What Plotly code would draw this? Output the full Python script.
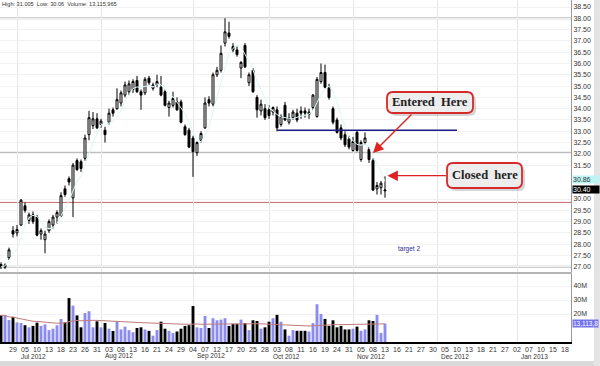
import pandas as pd
import plotly.graph_objects as go

# ---------------- data ----------------
start_day = "2012-06-26"
end_day = "2013-01-18"
holidays = ["2012-07-04", "2012-09-03", "2012-10-29", "2012-10-30",
            "2012-11-22", "2012-12-25", "2013-01-01"]

opens = [27.10, 26.98, 27.40, 28.60, 28.50, 28.85, 29.70, 29.05, 29.30, 29.20,
         28.45, 28.20, 28.60, 28.85, 29.20, 29.25, 30.45, 30.90, 30.05, 31.70,
         31.65, 31.80, 32.85, 33.25, 33.55, 33.30, 33.05, 33.40, 33.95, 34.00,
         34.25, 34.60, 34.75, 34.85, 35.25, 34.75, 34.70, 35.35, 34.90, 35.05,
         34.95, 34.75, 34.05, 34.15, 34.30, 34.30, 33.20, 33.05, 32.70, 32.05,
         32.60, 33.15, 34.40, 34.20, 35.50, 35.70, 36.90, 37.35, 36.75, 36.60,
         35.80, 36.80, 35.15, 35.70, 34.50, 33.90, 34.00, 33.95, 33.85, 33.95,
         33.30, 34.15, 33.40, 33.60, 33.80, 33.90, 33.90, 33.75, 34.05, 33.65,
         35.20, 35.60, 34.95, 34.00, 33.50, 33.15, 32.85, 32.65, 32.15, 32.95,
         31.75, 32.50, 32.20, 31.70, 30.45, 30.50, 30.36]
highs = [27.20, 27.15, 27.85, 28.80, 28.85, 30.00, 29.85, 29.40, 29.45, 29.30,
         28.70, 28.60, 29.10, 29.30, 29.50, 30.30, 30.60, 31.00, 31.60, 31.80,
         31.75, 32.85, 33.90, 33.85, 33.80, 33.55, 33.20, 34.00, 34.05, 34.90,
         34.80, 35.20, 35.25, 35.30, 35.45, 34.85, 35.40, 35.45, 35.15, 35.50,
         35.45, 34.85, 34.35, 34.75, 34.50, 34.40, 33.30, 33.15, 32.80, 32.55,
         33.00, 34.50, 34.55, 35.60, 35.85, 36.80, 38.00, 37.85, 36.90, 36.75,
         36.10, 36.90, 35.60, 35.80, 34.60, 34.40, 34.20, 34.15, 34.10, 34.10,
         33.75, 34.30, 33.80, 33.95, 34.00, 34.10, 34.05, 34.00, 34.65, 35.40,
         36.00, 35.95, 35.10, 34.10, 33.60, 33.30, 33.00, 32.80, 32.75, 33.05,
         32.60, 32.95, 32.30, 31.80, 30.75, 30.80, 31.005]
lows = [26.90, 26.90, 27.30, 28.30, 28.35, 28.80, 29.40, 28.90, 28.90, 28.35,
        28.20, 27.60, 28.50, 28.70, 28.90, 29.20, 30.10, 30.60, 29.20, 31.25,
        31.20, 31.70, 32.60, 33.10, 33.10, 33.15, 32.50, 33.30, 33.65, 33.95,
        34.10, 34.50, 34.60, 34.70, 34.70, 33.95, 34.60, 35.05, 34.80, 34.95,
        34.55, 34.10, 33.65, 34.05, 33.90, 33.35, 32.80, 32.25, 30.98, 31.90,
        32.50, 33.10, 34.10, 34.10, 35.40, 35.60, 36.75, 37.10, 36.50, 36.30,
        35.35, 35.80, 35.00, 34.70, 33.60, 33.70, 33.50, 33.55, 33.70, 33.00,
        33.20, 33.45, 33.30, 33.50, 33.40, 33.55, 33.60, 33.55, 33.95, 33.60,
        35.10, 34.90, 34.40, 33.30, 32.90, 32.60, 32.30, 32.20, 32.10, 32.10,
        31.65, 32.40, 31.60, 30.35, 30.20, 30.20, 30.06]
closes = [27.00, 27.08, 27.75, 28.45, 28.65, 29.95, 29.50, 29.30, 29.00, 28.40,
          28.60, 28.45, 29.00, 29.20, 29.40, 30.15, 30.20, 30.75, 31.50, 31.30,
          31.35, 32.70, 33.60, 33.55, 33.15, 33.45, 32.85, 33.80, 33.80, 34.40,
          34.70, 35.05, 35.10, 35.20, 34.75, 34.60, 35.30, 35.15, 35.05, 35.20,
          34.60, 34.15, 34.25, 34.45, 33.95, 33.40, 32.85, 32.30, 32.10, 32.50,
          32.90, 34.25, 34.25, 35.50, 35.70, 36.45, 37.40, 37.20, 36.60, 36.40,
          36.05, 35.85, 35.50, 34.75, 33.95, 34.20, 33.60, 33.70, 34.05, 33.15,
          33.65, 33.50, 33.60, 33.85, 33.50, 33.80, 33.80, 33.85, 34.60, 35.30,
          35.60, 34.95, 34.50, 33.40, 32.95, 32.70, 32.40, 32.30, 32.55, 32.15,
          32.50, 32.70, 31.75, 30.40, 30.60, 30.70, 30.40]
volumes_m = [19.0, 19.0, 15.7, 17.8, 14.0, 13.6, 12.0, 10.5, 11.5, 13.8,
             11.5, 12.6, 8.5, 9.5, 12.0, 16.4, 14.0, 31.4, 26.0, 19.0,
             10.5, 20.7, 22.0, 10.5, 14.8, 10.5, 13.6, 9.5, 7.9, 15.0,
             9.0, 11.0, 8.5, 7.0, 10.0, 10.5, 9.0, 8.0, 4.5, 8.5,
             14.5, 9.5, 8.0, 6.4, 7.5, 9.5, 11.5, 12.0, 25.7, 10.5,
             10.0, 18.6, 10.0, 17.0, 15.5, 16.0, 17.0, 11.5, 13.0, 13.0,
             16.0, 13.5, 8.5, 15.5, 15.0, 9.5, 10.5, 14.5, 17.0, 19.4,
             14.5, 9.0, 4.5, 8.5, 8.0, 8.0, 8.0, 7.5, 13.5, 27.0,
             20.0, 16.5, 11.5, 15.5, 10.5, 11.5, 9.0, 9.0, 9.5, 11.0,
             8.0, 9.0, 15.5, 15.0, 19.4, 6.5, 13.116]

tick_dates = ["2012-06-26", "2012-06-29", "2012-07-05", "2012-07-10", "2012-07-13",
              "2012-07-18", "2012-07-23", "2012-07-26", "2012-07-31", "2012-08-03",
              "2012-08-08", "2012-08-13", "2012-08-16", "2012-08-21", "2012-08-24",
              "2012-08-29", "2012-09-04", "2012-09-07", "2012-09-12", "2012-09-17",
              "2012-09-20", "2012-09-25", "2012-09-28", "2012-10-03", "2012-10-08",
              "2012-10-11", "2012-10-16", "2012-10-19", "2012-10-24", "2012-10-31",
              "2012-11-05", "2012-11-08", "2012-11-13", "2012-11-16", "2012-11-21",
              "2012-11-27", "2012-11-30", "2012-12-05", "2012-12-10", "2012-12-13",
              "2012-12-18", "2012-12-21", "2012-12-27", "2013-01-02", "2013-01-07",
              "2013-01-10", "2013-01-15", "2013-01-18"]
month_starts = ["2012-07-02", "2012-08-01", "2012-09-04", "2012-10-01",
                "2012-11-01", "2012-12-03", "2013-01-02"]
month_labels = ["Jul 2012", "Aug 2012", "Sep 2012", "Oct 2012",
                "Nov 2012", "Dec 2012", "Jan 2013"]

price_ticks = [27.0 + 0.5 * k for k in range(24)]
volume_ticks = [20, 30, 40]
gray_levels = [38.0, 32.05, 27.0]
red_levels = [29.85, 27.5]
entry_level = 33.05
entry_span = ["2012-10-03", "2012-12-10"]
target_label_date = "2012-11-21"
ma_value = 30.86
header_text = "High: 31.005  Low: 30.06  Volume: 13,115,965"
volume_label = "13,113,8"

# ---------------- calendar / positions ----------------
calendar = [d.strftime("%Y-%m-%d") for d in pd.bdate_range(start_day, end_day)
            if d.strftime("%Y-%m-%d") not in holidays]
pos = {d: i for i, d in enumerate(calendar)}
dates = calendar[:len(opens)]
xs = [pos[d] for d in dates]

vol_colors = ["#8c8cf0" if c >= o else "#000000" for o, c in zip(opens, closes)]
vol_ma = pd.Series(volumes_m).rolling(50, min_periods=1).mean()
price_ma = pd.Series(closes).rolling(5, min_periods=1).mean()

# price tick labels hidden behind the value flags
shown_ticks = [t for t in price_ticks
               if abs(t - ma_value) > 0.25 and abs(t - closes[-1]) > 0.25]

PW, PH = 571.0, 342.0


def pxx(v):
    return v / PW


def pyy(v):
    return (PH - v) / PH


def rrect(x0, y0, x1, y1, r):
    pts = [("M", x0 + r, y0), ("L", x1 - r, y0), ("Q", x1, y0, x1, y0 + r),
           ("L", x1, y1 - r), ("Q", x1, y1, x1 - r, y1), ("L", x0 + r, y1),
           ("Q", x0, y1, x0, y1 - r), ("L", x0, y0 + r), ("Q", x0, y0, x0 + r, y0)]
    out = []
    for p in pts:
        if p[0] == "Q":
            out.append("Q %.5f,%.5f %.5f,%.5f" % (pxx(p[1]), pyy(p[2]), pxx(p[3]), pyy(p[4])))
        else:
            out.append("%s %.5f,%.5f" % (p[0], pxx(p[1]), pyy(p[2])))
    return " ".join(out) + " Z"


fig = go.Figure()

fig.add_trace(go.Scatter(x=xs, y=price_ma, mode="lines",
                         line=dict(color="#dcf6f6", width=1), hoverinfo="skip",
                         xaxis="x", yaxis="y"))
fig.add_trace(go.Candlestick(
    x=xs, open=opens, high=highs, low=lows, close=closes,
    increasing=dict(line=dict(color="#000000", width=1), fillcolor="#ffffff"),
    decreasing=dict(line=dict(color="#000000", width=1), fillcolor="#000000"),
    whiskerwidth=0, xaxis="x", yaxis="y"))
fig.add_trace(go.Bar(x=xs, y=volumes_m, marker=dict(color=vol_colors, line=dict(width=0)),
                     xaxis="x2", yaxis="y2"))
fig.add_trace(go.Scatter(x=xs, y=vol_ma, mode="lines",
                         line=dict(color="#c27a7a", width=1), xaxis="x2", yaxis="y2"))

font_axis = dict(family="Liberation Sans, Arial", size=7, color="#333333")
xr = [-0.25, 142.5]
month_pos = [pos[d] for d in month_starts]

fig.update_layout(
    width=600, height=366, margin=dict(l=0, r=29, t=0, b=24),
    paper_bgcolor="white", plot_bgcolor="white", showlegend=False, bargap=0.28,
    xaxis=dict(domain=[0, 1], range=xr, anchor="y", tickvals=month_pos,
               showticklabels=False, ticks="", showgrid=True, gridcolor="#e6e6e6",
               gridwidth=1, zeroline=False, showline=True, linecolor="#b4b4b4",
               linewidth=2, rangeslider=dict(visible=False)),
    yaxis=dict(domain=[(PH - 272) / PH, 1], range=[26.77, 38.81], side="right",
               tickvals=shown_ticks, ticktext=["%.2f" % t for t in shown_ticks],
               tickfont=font_axis, ticks="", showgrid=True, gridcolor="#f1f1f1",
               zeroline=False, showline=True, linecolor="#999999", linewidth=1),
    xaxis2=dict(domain=[0, 1], range=xr, anchor="y2", matches="x",
                tickvals=[pos[d] for d in tick_dates], ticktext=[d[-2:] for d in tick_dates],
                tickfont=font_axis, ticks="", showgrid=False, zeroline=False,
                showline=True, linecolor="#000000", linewidth=2, tickangle=0,
                minor=dict(tickvals=month_pos, showgrid=True, gridcolor="#e6e6e6", ticks="")),
    yaxis2=dict(domain=[0, (PH - 274) / PH], range=[0, 48.6], side="right",
                tickvals=volume_ticks, ticktext=["%dM" % t for t in volume_ticks],
                tickfont=font_axis, ticks="", showgrid=True, gridcolor="#f1f1f1",
                zeroline=False, showline=True, linecolor="#999999", linewidth=1),
)

shapes = []
for lv in gray_levels:
    shapes.append(dict(type="line", xref="paper", yref="y", x0=0, x1=1, y0=lv, y1=lv,
                       line=dict(color="#bdbdbd", width=2), layer="below"))
for lv in red_levels:
    shapes.append(dict(type="line", xref="paper", yref="y", x0=0, x1=1, y0=lv, y1=lv,
                       line=dict(color="#c96a6a", width=1), layer="below"))
shapes.append(dict(type="line", xref="x", yref="y", x0=pos[entry_span[0]], x1=pos[entry_span[1]],
                   y0=entry_level, y1=entry_level, line=dict(color="#1c1c86", width=1.5)))

# call-out boxes (pixel geometry -> paper)
boxes = [((387, 92, 473, 113), "Entered\u00a0 Here"), ((447, 163, 522, 188), "Closed\u00a0 here")]
annotations = []
for (x0, y0, x1, y1), txt in boxes:
    shapes.append(dict(type="path", xref="paper", yref="paper",
                       path=rrect(x0 + 3, y0 + 3, x1 + 3, y1 + 3, 6),
                       fillcolor="rgba(0,0,0,0.16)", line=dict(width=0)))
    shapes.append(dict(type="path", xref="paper", yref="paper",
                       path=rrect(x0, y0, x1, y1, 6),
                       fillcolor="#ededed", line=dict(color="#d42a2a", width=1.8)))
    annotations.append(dict(xref="paper", yref="paper", x=pxx((x0 + x1) / 2), y=pyy((y0 + y1) / 2),
                            xanchor="center", yanchor="middle",
                            text="<b>%s</b>" % txt, showarrow=False,
                            font=dict(family="Liberation Serif, Times New Roman", size=12.5,
                                      color="#222222")))

# arrows
annotations.append(dict(x=pos["2012-11-08"], y=32.04, xref="x", yref="y", text="",
                        showarrow=True, ax=40, ay=-40, arrowcolor="#dd2222",
                        arrowhead=2, arrowsize=1.5, arrowwidth=1.4))
annotations.append(dict(x=xs[-1] + 0.6, y=highs[-1] + 0.03, xref="x", yref="y", text="",
                        showarrow=True, ax=60, ay=0, arrowcolor="#dd2222",
                        arrowhead=2, arrowsize=1.5, arrowwidth=1.4))

# target text
annotations.append(dict(x=pos[target_label_date], y=red_levels[1], xref="x", yref="y",
                        text="target 2", showarrow=False, yanchor="bottom", yshift=1,
                        xanchor="center",
                        font=dict(family="Liberation Sans, Arial", size=6.5, color="#2a2a90")))

# header
annotations.append(dict(x=pxx(0), y=pyy(4), xref="paper", yref="paper", text=header_text,
                        showarrow=False, xanchor="left", yanchor="middle",
                        font=dict(family="Liberation Sans, Arial", size=5.6, color="#333333")))

# right side value labels
annotations.append(dict(x=1, y=ma_value, xref="paper", yref="y", text="%.2f" % ma_value,
                        showarrow=False, xanchor="left", yanchor="middle", xshift=1, width=26,
                        align="left", bgcolor="#bdf3f3", borderpad=0,
                        font=dict(family="Liberation Sans, Arial", size=7, color="#333333")))
annotations.append(dict(x=1, y=closes[-1], xref="paper", yref="y", text="%.2f" % closes[-1],
                        showarrow=False, xanchor="left", yanchor="middle", xshift=1, width=26,
                        align="left", bgcolor="#000000", borderpad=0,
                        font=dict(family="Liberation Sans, Arial", size=7, color="#ffffff")))
annotations.append(dict(x=1, y=volumes_m[-1], xref="paper", yref="y2", text=volume_label,
                        showarrow=False, xanchor="left", yanchor="middle", xshift=1,
                        align="left", bgcolor="#7373ec", borderpad=0,
                        font=dict(family="Liberation Sans, Arial", size=6.5, color="#ffffff")))

# month labels
for d, lab in zip(month_starts, month_labels):
    annotations.append(dict(x=pos[d] + 0.6, y=pyy(356), xref="x2", yref="paper", text=lab,
                            showarrow=False, xanchor="left", yanchor="middle",
                            font=dict(family="Liberation Sans, Arial", size=6.5, color="#333333")))

# frame shadow
shapes.append(dict(type="rect", xref="paper", yref="paper", x0=pxx(0), x1=pxx(600),
                   y0=pyy(366), y1=pyy(361), fillcolor="#dadada", line=dict(width=0)))
shapes.append(dict(type="rect", xref="paper", yref="paper", x0=pxx(594), x1=pxx(600),
                   y0=pyy(366), y1=pyy(0), fillcolor="#e4e4e4", line=dict(width=0)))

fig.update_layout(shapes=shapes, annotations=annotations)
fig.write_html("out.html")
